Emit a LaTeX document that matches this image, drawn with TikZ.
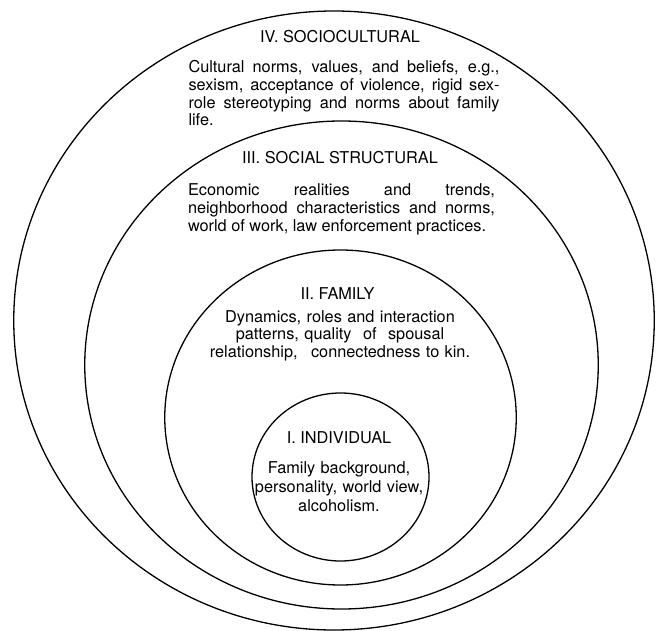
\documentclass[tikz,border=0pt]{standalone}
\usepackage{fontspec}
\setmainfont{TeX Gyre Heros}
\usetikzlibrary{shapes.geometric,positioning}
\hyphenpenalty=10000

\begin{document}
\begin{tikzpicture}[
    x=1pt, y=-1pt,
    ring/.style={ellipse, draw, line width=1.3pt, inner sep=0pt},
    heading/.style={anchor=base, inner sep=0pt, font=\fontsize{16.3}{18}\selectfont},
    para/.style={anchor=base, inner sep=0pt, text width=#1, align=justify, font=\fontsize{16.3}{17.6}\selectfont},
    lines/.style={anchor=base, inner sep=0pt, text width=300pt, align=center, font=\fontsize{16.3}{#1}\selectfont}
]
\useasboundingbox (0,0) rectangle (656,631);

% Rings
\node[ring, minimum width=640.5pt, minimum height=619pt] (sociocultural) at (334,320.5) {};
\node[ring, minimum width=513.5pt, minimum height=488pt] (structural) at (341.5,365) {};
\node[ring, minimum width=351.5pt, minimum height=335pt] (family) at (340.5,417.5) {};
\node[ring, minimum width=177pt, minimum height=168pt] (individual) at (340.5,477) {};

% Level IV
\node[heading] (socioTitle) at (340,43) {IV. SOCIOCULTURAL};
\node[para=311pt] (socioText) at (344,73) {Cultural norms, values, and beliefs, e.g.,\linebreak sexism, acceptance of violence, rigid sex-\linebreak role stereotyping and norms about family\linebreak life.};

% Level III
\node[heading] (structTitle) at (340,164) {III. SOCIAL STRUCTURAL};
\node[para=307pt] (structText) at (341.5,196) {Economic realities and trends,\linebreak neighborhood characteristics and norms,\linebreak world of work, law enforcement practices.};

% Level II
\node[heading] (familyTitle) at (337.5,299) {II. FAMILY};
\node[lines=17.8] (familyText) at (340,322) {Dynamics, roles and interaction\\patterns, quality\hspace{6pt} of\hspace{6pt} spousal\\relationship,\hspace{8pt} connectedness to kin.};

% Level I
\node[heading] (indivTitle) at (339,443.5) {I. INDIVIDUAL};
\node[lines=19] (indivText) at (339,473.5) {Family background,\\personality, world view,\\alcoholism.};

\end{tikzpicture}
\end{document}
